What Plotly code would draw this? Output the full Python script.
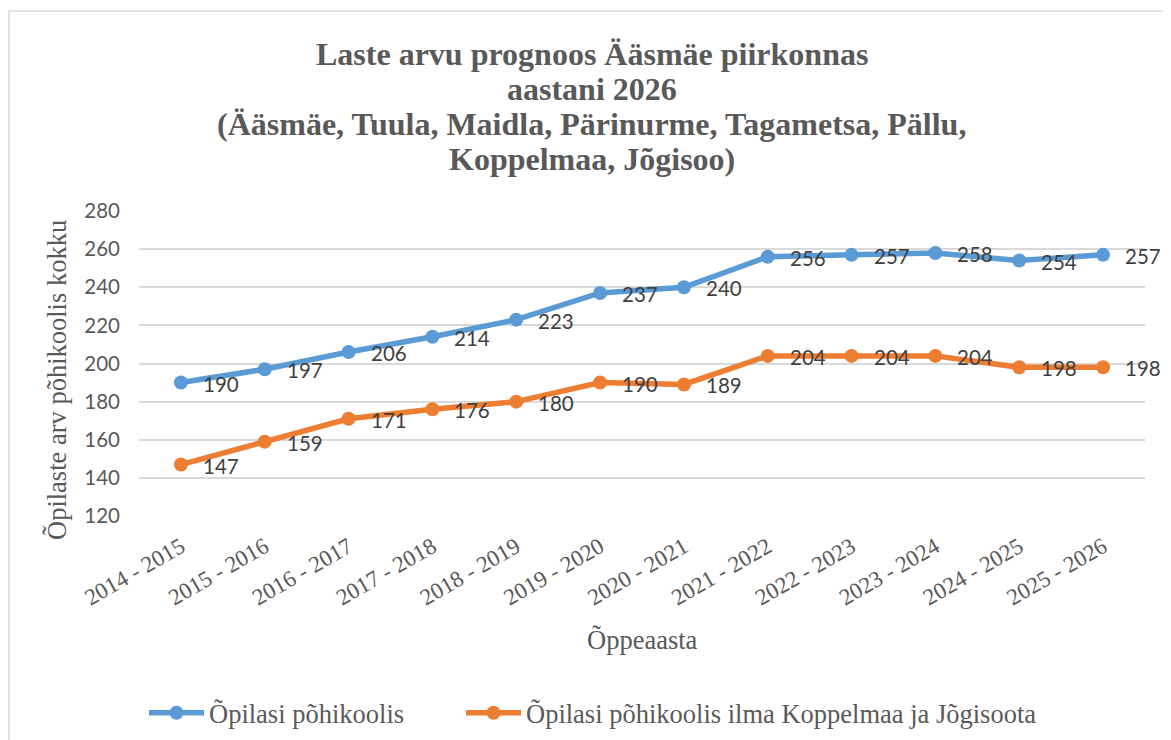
import plotly.graph_objects as go

categories = ["2014 - 2015", "2015 - 2016", "2016 - 2017", "2017 - 2018", "2018 - 2019",
              "2019 - 2020", "2020 - 2021", "2021 - 2022", "2022 - 2023", "2023 - 2024",
              "2024 - 2025", "2025 - 2026"]
series_all = [190, 197, 206, 214, 223, 237, 240, 256, 257, 258, 254, 257]
series_excl = [147, 159, 171, 176, 180, 190, 189, 204, 204, 204, 198, 198]
name_all = "Õpilasi põhikoolis"
name_excl = "Õpilasi põhikoolis ilma Koppelmaa ja Jõgisoota"
y_ticks = [120, 140, 160, 180, 200, 220, 240, 260, 280]
title_lines = ["Laste arvu prognoos Ääsmäe piirkonnas",
               "aastani 2026",
               "(Ääsmäe, Tuula, Maidla, Pärinurme, Tagametsa, Pällu,",
               "Koppelmaa, Jõgisoo)"]
x_title = "Õppeaasta"
y_title = "Õpilaste arv põhikoolis kokku"

serif = "Liberation Serif"
sans = "Lato"
gray = "#595959"

W, H = 1163, 732
L, T, R, B = 131, 203, 26, 224
PW, PH = W - L - R, H - T - B


def px(xpix):
    return (xpix - L) / PW


def py(ypix):
    return (H - B - ypix) / PH


fig = go.Figure()
for name, vals, col, leg in [(name_all, series_all, "#5B9BD5", "legend"),
                             (name_excl, series_excl, "#ED7D31", "legend2")]:
    fig.add_trace(go.Scatter(
        x=categories, y=vals, name=name, mode="lines+markers",
        line=dict(color=col, width=5.5),
        marker=dict(color=col, size=14),
        cliponaxis=False, legend=leg,
    ))
    for c, v in zip(categories, vals):
        fig.add_annotation(x=c, y=v, text=str(v), showarrow=False,
                           xanchor="left", yanchor="middle", xshift=20, yshift=-1,
                           font=dict(family=sans, size=20.5, color="#404040"))

for i, line in enumerate(title_lines):
    fig.add_annotation(xref="paper", yref="paper", x=px(W / 2 + 2), y=py(46 + 35 * i),
                       text="<b>" + line + "</b>", showarrow=False,
                       xanchor="center", yanchor="middle",
                       font=dict(family=serif, size=32, color=gray))

fig.add_annotation(xref="paper", yref="paper", x=px(W / 2 + 53), y=py(632), text=x_title,
                   showarrow=False, xanchor="center", yanchor="middle",
                   font=dict(family=serif, size=26.5, color=gray))
fig.add_annotation(xref="paper", yref="paper", x=px(49), y=py(372), text=y_title,
                   showarrow=False, xanchor="center", yanchor="middle", textangle=-90,
                   font=dict(family=serif, size=26.5, color=gray))

leg_common = dict(orientation="h", xanchor="left", xref="container",
                  y=(H - 705) / H, yanchor="middle", yref="container",
                  itemwidth=55, bgcolor="rgba(0,0,0,0)",
                  font=dict(family=serif, size=26.5, color=gray))

fig.update_layout(
    width=W, height=H,
    margin=dict(l=L, r=R, t=T, b=B, autoexpand=False),
    paper_bgcolor="white", plot_bgcolor="white",
    showlegend=True,
    legend=dict(x=136 / W, **leg_common),
    legend2=dict(x=453 / W, **leg_common),
    xaxis=dict(
        type="category", range=[-0.5, len(categories) - 0.5], tickangle=-30,
        showgrid=False, showline=False, zeroline=False,
        ticks="", automargin=False, ticklabelstandoff=12,
        tickfont=dict(family=serif, size=23, color=gray),
    ),
    yaxis=dict(
        range=[120, 280], tickvals=y_ticks, showgrid=True, gridcolor="#D9D9D9", gridwidth=1.5,
        zeroline=False, showline=False, ticks="", ticklen=0, ticklabelstandoff=18,
        automargin=False,
        tickfont=dict(family=sans, size=20.5, color=gray),
    ),
)

fig.add_shape(type="rect", xref="paper", yref="paper",
              x0=px(1), x1=px(W + 20), y0=py(H + 20), y1=py(3),
              line=dict(color="#D9D9D9", width=1.5), fillcolor="rgba(0,0,0,0)", layer="below")

fig.write_html("out.html")
